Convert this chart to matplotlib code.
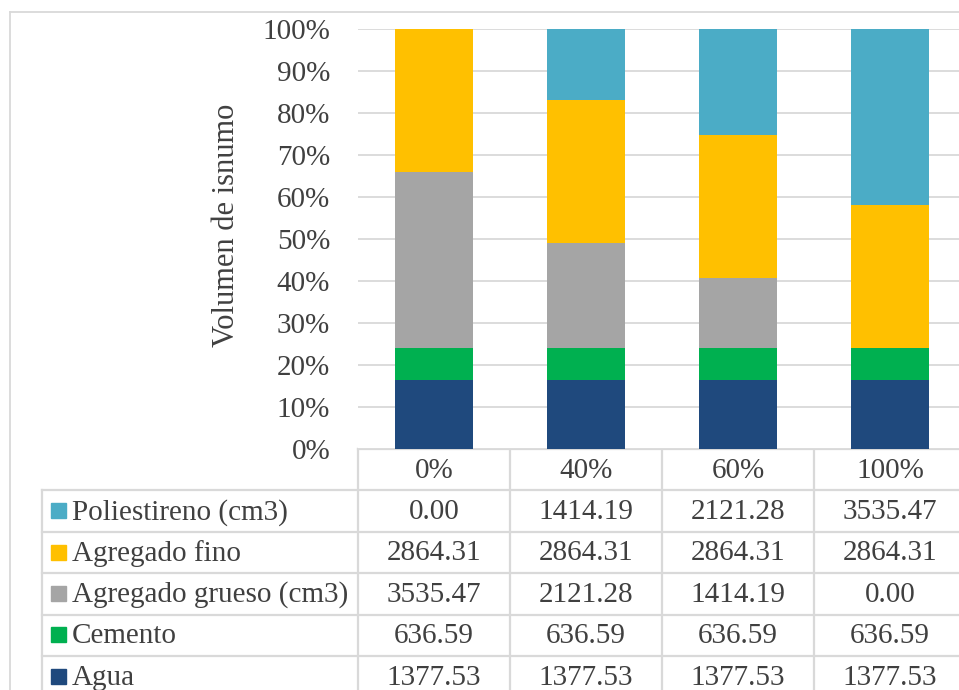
import numpy as np
import matplotlib.pyplot as plt
from matplotlib.patches import Rectangle

plt.rcParams['font.family'] = ['Liberation Serif', 'DejaVu Serif']

categories = ['0%', '40%', '60%', '100%']
series = ['Poliestireno (cm3)', 'Agregado fino', 'Agregado grueso (cm3)', 'Cemento', 'Agua']
poliestireno = [0.00, 1414.19, 2121.28, 3535.47]
agregado_fino = [2864.31, 2864.31, 2864.31, 2864.31]
agregado_grueso = [3535.47, 2121.28, 1414.19, 0.00]
cemento = [636.59, 636.59, 636.59, 636.59]
agua = [1377.53, 1377.53, 1377.53, 1377.53]
colors = ['#4BACC6', '#FFC000', '#A5A5A5', '#00B050', '#1F497D']

values = [poliestireno, agregado_fino, agregado_grueso, cemento, agua]
txt = '#404040'
grid = '#D9D9D9'
fs = 21

W, H = 959, 690
fig = plt.figure(figsize=(W / 100, H / 100), dpi=100)

# pixel-coordinate layer for the frame and the data table
bg = fig.add_axes([0, 0, 1, 1])
bg.set_xlim(0, W)
bg.set_ylim(H, 0)
bg.axis('off')

# plot area in pixels
px0, px1 = 358, 966
py_top, py_bot = 29, 449
ax = fig.add_axes([px0 / W, 1 - py_bot / H, (px1 - px0) / W, (py_bot - py_top) / H])

n = len(categories)
x = np.arange(n)
totals = np.sum(values, axis=0)
bottom = np.zeros(n)
# stack from the bottom series (Agua) upward
for name, vals, c in reversed(list(zip(series, values, colors))):
    pct = np.array(vals) / totals * 100
    ax.bar(x, pct, width=0.51, bottom=bottom, color=c, zorder=3, clip_on=False)
    bottom += pct

ax.set_xlim(-0.5, n - 0.5)
ax.set_ylim(0, 100)
ax.set_yticks(np.arange(0, 101, 10))
ax.set_yticklabels([f'{v}%' for v in range(0, 101, 10)], fontsize=fs, color=txt)
ax.tick_params(axis='y', length=0, pad=20)
ax.set_xticks([])
ax.grid(axis='y', color=grid, linewidth=1.3, zorder=0)
for s in ax.spines.values():
    s.set_visible(False)
bg.text(227, 225, 'Volumen de isnumo', rotation=90, ha='center', va='center',
        fontsize=22, color=txt)

# chart area border
bg.plot([10, W + 5], [12, 12], color=grid, lw=1.3)
bg.plot([10, 10], [12, H + 5], color=grid, lw=1.3)

# data table
col_w = (px1 - px0) / n
col_edges = [px0 + i * col_w for i in range(n + 1)]
tx0 = 42
row_edges = [449 + i * 41.4 for i in range(len(series) + 2)]
lc = '#D9D9D9'
lw = 1.6
bg.plot([px0, px1], [row_edges[0]] * 2, color=lc, lw=lw)
for y in row_edges[1:]:
    bg.plot([tx0, px1], [y, y], color=lc, lw=lw)
for xe in col_edges:
    bg.plot([xe, xe], [row_edges[0], H + 5], color=lc, lw=lw)
bg.plot([tx0, tx0], [row_edges[1], H + 5], color=lc, lw=lw)

for i, cat in enumerate(categories):
    xc = (col_edges[i] + col_edges[i + 1]) / 2
    bg.text(xc, (row_edges[0] + row_edges[1]) / 2 + 1, cat, ha='center', va='center',
            fontsize=fs, color=txt)

for r, (name, vals, c) in enumerate(zip(series, values, colors)):
    yc = (row_edges[r + 1] + row_edges[r + 2]) / 2
    bg.add_patch(Rectangle((51, yc - 8), 15, 15, color=c))
    bg.text(72, yc + 1, name, ha='left', va='center', fontsize=fs, color=txt)
    for i, v in enumerate(vals):
        xc = (col_edges[i] + col_edges[i + 1]) / 2
        bg.text(xc, yc + 1, f'{v:.2f}', ha='center', va='center', fontsize=fs, color=txt)

fig.savefig('out.png', dpi=100)
